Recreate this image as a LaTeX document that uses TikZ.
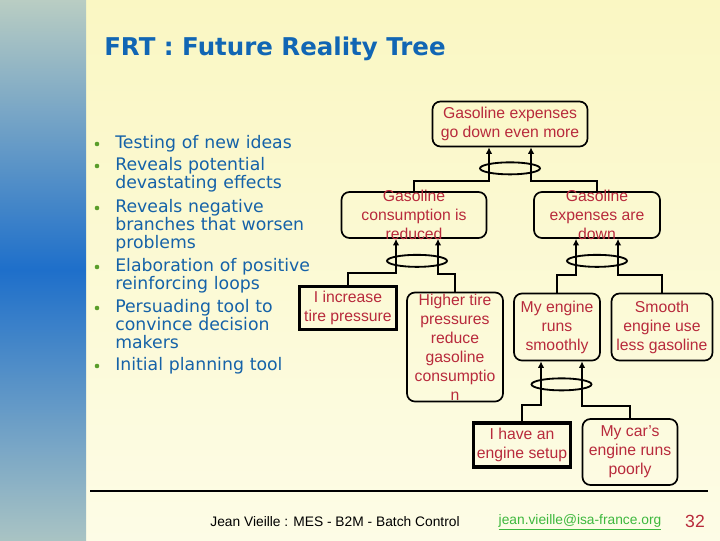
\documentclass[tikz,border=0pt]{standalone}
\usepackage{fontspec}
\setmainfont{Liberation Sans}
\newfontfamily\tahoma{DejaVu Sans}
\usetikzlibrary{arrows.meta,calc}
\definecolor{frtred}{HTML}{B82A3C}
\definecolor{frtblue}{HTML}{1562A8}
\definecolor{titleblue}{HTML}{1166B4}
\definecolor{dotgreen}{HTML}{5A9E2A}
\definecolor{mailgreen}{HTML}{3DB83D}
\definecolor{bgtop}{HTML}{FAF7C3}
\definecolor{bgbot}{HTML}{FDFCE6}
\definecolor{barpale}{HTML}{F1EFC0}
\definecolor{barblue}{HTML}{1E6FCA}
\pgfdeclareverticalshading{sidebar}{100bp}{color(0bp)=(barpale); color(12bp)=(barpale); color(50bp)=(barblue); color(84bp)=(barpale); color(100bp)=(barpale)}

\begin{document}
\begin{tikzpicture}[
  x=0.025cm,y=-0.025cm,
  rbox/.style={draw,line width=1.2pt,rounded corners=0.2cm},
  sbox/.style={draw,line width=2.4pt},
  txt/.style={text=frtred,align=center,inner sep=0pt,font=\fontsize{11.2}{13.5}\selectfont},
  item/.style={anchor=base west,text=frtblue,text width=6cm,align=left,inner sep=0pt,font=\tahoma\fontsize{12.3}{13.1}\selectfont},
  arr/.style={-{Latex[length=1.6mm,width=1.6mm]},line width=1.3pt},
  andring/.style={line width=1.3pt}
]
\useasboundingbox (0,0) rectangle (720,540);
% slide background
\fill[top color=bgtop,bottom color=bgbot] (86,0) rectangle (720,540);
\shade[shading=sidebar] (0,0) rectangle (86,540);

\node[anchor=base west,inner sep=0pt,text=titleblue,font=\tahoma\bfseries\fontsize{17.4}{20}\selectfont] (title) at (104,55) {FRT : Future Reality Tree};

% bullet list
\foreach \y/\t [count=\i] in {148/{Testing of new ideas},170/{Reveals potential\\devastating effects},212/{Reveals negative\\branches that worsen\\problems},271/{Elaboration of positive\\reinforcing loops},312/{Persuading tool to\\convince decision\\makers},370/{Initial planning tool}}{
  \fill[dotgreen] (97,\y-4) circle[radius=2.3];
  \node[item] (item\i) at (115,\y) {\t};
}

% tree boxes
\node[rbox,minimum width=3.875cm,minimum height=1.125cm] (top) at (510,124) {};
\node[txt] (topt) at (top) {Gasoline expenses\\go down even more};
\node[rbox,minimum width=3.625cm,minimum height=1.15cm] (gc) at (414,215) {};
\node[txt] (gct) at (gc) {Gasoline\\consumption is\\reduced};
\node[rbox,minimum width=3.15cm,minimum height=1.15cm] (ge) at (597,215) {};
\node[txt] (get) at (ge) {Gasoline\\expenses are\\down};
\node[sbox,minimum width=2.425cm,minimum height=1.075cm] (tire) at (348,308) {};
\node[txt] (tiret) at (tire) {I increase\\tire pressure};
\node[rbox,minimum width=2.4cm,minimum height=2.725cm] (high) at (455,347) {};
\node[txt] (hight) at (high) {Higher tire\\pressures\\reduce\\gasoline\\consumptio\\n};
\node[rbox,minimum width=2.15cm,minimum height=1.675cm] (eng) at (557,327) {};
\node[txt] (engt) at (eng) {My engine\\runs\\smoothly};
\node[rbox,minimum width=2.525cm,minimum height=1.675cm] (smooth) at (662,327) {};
\node[txt] (smootht) at (smooth) {Smooth\\engine use\\less gasoline};
\node[sbox,minimum width=2.425cm,minimum height=1.1cm] (setup) at (522,445) {};
\node[txt] (setupt) at (setup) {I have an\\engine setup};
\node[rbox,minimum width=2.375cm,minimum height=1.65cm] (car) at (630,452) {};
\node[txt] (cart) at (car) {My car's\\engine runs\\poorly};

% arrow tips on the effect boxes
\coordinate (t1l) at ($(top.south)+(-21,0)$);
\coordinate (t1r) at ($(top.south)+(21,0)$);
\coordinate (t2l) at ($(gc.south)+(-18,0)$);
\coordinate (t2r) at ($(gc.south)+(24,0)$);
\coordinate (t3l) at ($(ge.south)+(-21,0)$);
\coordinate (t3r) at ($(ge.south)+(21,0)$);
\coordinate (t4l) at ($(eng.south)+(-16,0)$);
\coordinate (t4r) at ($(eng.south)+(25,0)$);

% causes
\draw[arr] (gc.north) -- ++(0,-10) -| (t1l);
\draw[arr] (ge.north) -- ++(0,-10) -| (t1r);
\draw[arr] (tire.north) -- ++(0,-12) -| (t2l);
\draw[arr] (high.north) -- ++(0,-18) -| (t2r);
\draw[arr] (eng.north) -- ++(0,-18) -| (t3l);
\draw[arr] (smooth.north) -- ++(0,-18) -| (t3r);
\draw[arr] (setup.north) -- ++(0,-16) -| (t4l);
\draw[arr] (car.north) -- ++(0,-12) -| (t4r);

% and-rings
\draw[andring] ($(t1l)!0.5!(t1r)+(0,21)$) ellipse[x radius=30,y radius=6];
\draw[andring] ($(t2l)!0.5!(t2r)+(0,22)$) ellipse[x radius=30,y radius=6];
\draw[andring] ($(t3l)!0.5!(t3r)+(0,22)$) ellipse[x radius=30,y radius=6];
\draw[andring] ($(t4l)!0.5!(t4r)+(0,23)$) ellipse[x radius=30,y radius=6];

% footer
\draw[line width=1.5pt] (90,491) -- (708,491);
\node[font=\fontsize{9.8}{12}\selectfont] (foot) at (335,522) {Jean Vieille : MES - B2M - Batch Control};
\node[text=mailgreen,font=\fontsize{9.8}{12}\selectfont] (mail) at (580,522) {\underline{jean.vieille@isa-france.org}};
\node[text=frtred,font=\fontsize{12.5}{14}\selectfont] (page) at (695,521) {32};
\end{tikzpicture}
\end{document}
